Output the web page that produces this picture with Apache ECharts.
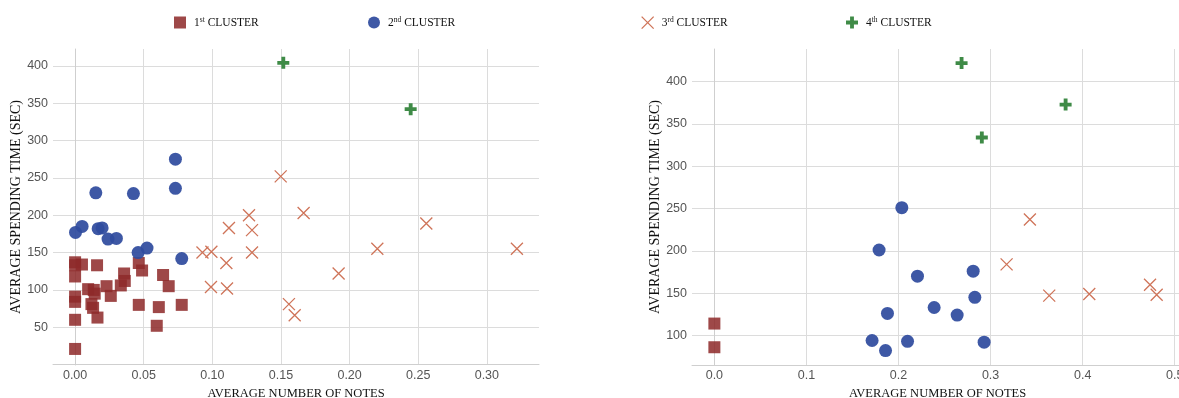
<!DOCTYPE html>
<html>
<head>
<meta charset="utf-8">
<script src="https://cdn.jsdelivr.net/npm/echarts@6/dist/echarts.min.js"></script>
<style>html,body{margin:0;padding:0;background:#fff}#c{width:1179px;height:398px}</style>
</head>
<body>
<div id="c"></div>
<script>
// ---- data (x = average number of notes, y = average spending time in sec) ----
const seriesNames = ['1st CLUSTER', '2nd CLUSTER', '3rd CLUSTER', '4th CLUSTER'];

const leftCluster1 = [[0,137],[0,133],[0,118],[0.005,134],[0.016,133],[0,91],[0,84],[0,60],[0,21],
  [0.0095,101],[0.0136,100],[0.0143,95],[0.0119,81],[0.0131,76],[0.0163,63],[0.0229,105],[0.026,92],
  [0.0357,122],[0.0362,112],[0.0333,106],[0.0464,136],[0.0488,126],[0.0464,80],[0.0641,120],
  [0.0682,105],[0.061,77],[0.0595,52],[0.0777,80]];
const leftCluster2 = [[0.0731,275],[0.0151,230],[0.0425,229],[0.0731,236],[0.0003,177],[0.0051,185],
  [0.0168,182],[0.0197,183],[0.024,168],[0.0301,169],[0.0459,150],[0.0524,156],[0.0777,142]];
const leftCluster3 = [[0.1498,252],[0.1665,203],[0.1267,200],[0.1121,183],[0.1289,180],[0.0928,150],
  [0.0993,151],[0.1289,150],[0.1102,136],[0.099,104],[0.1107,102],[0.1558,81],[0.16,66],
  [0.2202,155],[0.192,122],[0.3219,155],[0.2559,189]];
const leftCluster4 = [[0.1517,404],[0.2445,342]];

const rightCluster1 = [[0,114],[0,86]];
const rightCluster2 = [[0.2036,251],[0.1789,201],[0.2206,170],[0.188,126],[0.1713,94],[0.1859,82],
  [0.2098,93],[0.2811,176],[0.2829,145],[0.2387,133],[0.2637,124],[0.293,92]];
const rightCluster3 = [[0.3174,184],[0.3427,237],[0.3637,147],[0.4072,149],[0.4732,160],[0.4804,148]];
const rightCluster4 = [[0.2685,422],[0.3815,373],[0.2905,334]];

const leftXTicks = [0, 0.05, 0.10, 0.15, 0.20, 0.25, 0.30];
const leftYTicks = [50, 100, 150, 200, 250, 300, 350, 400];
const rightXTicks = [0, 0.1, 0.2, 0.3, 0.4, 0.5];
const rightYTicks = [100, 150, 200, 250, 300, 350, 400];

const xName = 'AVERAGE NUMBER OF NOTES';
const yName = 'AVERAGE SPENDING TIME (SEC)';

// ---- styles ----
const colors = ['#8e2a2a', '#2f4b9e', '#cf7459', '#3f8b47'];
const crossPath = 'path://M0,0 L10,10 M10,0 L0,10';
const plusPath = 'path://M3.4,0 L6.6,0 L6.6,3.4 L10,3.4 L10,6.6 L6.6,6.6 L6.6,10 L3.4,10 L3.4,6.6 L0,6.6 L0,3.4 L3.4,3.4 Z';
const symbols = ['rect', 'circle', crossPath, plusPath];
const sizes = [12, 13, 12, 12];

function itemStyle(i) {
  if (i === 2) return { color: 'rgba(0,0,0,0)', borderColor: colors[2], borderWidth: 1.3, opacity: 1 };
  if (i === 0) return { color: colors[0], opacity: 0.86 };
  if (i === 1) return { color: colors[1], opacity: 0.93 };
  return { color: colors[3], opacity: 1 };
}

const tickFont = { fontFamily: 'Liberation Sans', fontSize: 12.5, color: '#555' };
const xNameFont = { fontFamily: 'Liberation Serif', fontSize: 12.5, color: '#111' };
const yNameFont = { fontFamily: 'Liberation Serif', fontSize: 14, color: '#111' };

function xAxis(gi, min, max, ticks, digits) {
  return {
    type: 'value', gridIndex: gi, min: min, max: max,
    name: xName, nameLocation: 'middle', nameGap: 22, nameTextStyle: xNameFont,
    axisLine: { show: true, lineStyle: { color: '#cfcfcf', width: 1 } },
    axisTick: { show: false, customValues: ticks },
    axisLabel: Object.assign({ customValues: ticks, margin: 4, formatter: v => v.toFixed(digits) }, tickFont),
    splitLine: { show: true, lineStyle: { color: '#dcdcdc', width: 1 } }
  };
}
function yAxis(gi, min, max, ticks) {
  return {
    type: 'value', gridIndex: gi, min: min, max: max,
    name: yName, nameLocation: 'middle', nameGap: 28, nameTextStyle: yNameFont,
    axisLine: { show: true, lineStyle: { color: '#cfcfcf', width: 1 } },
    axisTick: { show: false, customValues: ticks },
    axisLabel: Object.assign({ customValues: ticks, margin: 5 }, tickFont),
    splitLine: { show: true, lineStyle: { color: '#dcdcdc', width: 1 } }
  };
}

const leftData = [leftCluster1, leftCluster2, leftCluster3, leftCluster4];
const rightData = [rightCluster1, rightCluster2, rightCluster3, rightCluster4];
const series = [];
[leftData, rightData].forEach((set, gi) => {
  set.forEach((d, i) => {
    series.push({
      type: 'scatter', name: seriesNames[i], xAxisIndex: gi, yAxisIndex: gi,
      data: d, symbol: symbols[i], symbolSize: sizes[i],
      itemStyle: itemStyle(i), emphasis: { disabled: true }, z: 2 + i
    });
  });
});

const legendLefts = [174, 368, 641, 846];
const supers = ['st', 'nd', 'rd', 'th'];
const legends = seriesNames.map((n, i) => ({
  data: [{ name: n, icon: symbols[i], itemStyle: itemStyle(i) }],
  left: legendLefts[i], top: 16, itemWidth: 12, itemHeight: 12, padding: 0,
  selectedMode: false,
  formatter: name => (i + 1) + '{s|' + supers[i] + '} CLUSTER',
  textStyle: {
    fontFamily: 'Liberation Serif', fontSize: 11.5, color: '#111', padding: [0, 0, 0, 3],
    rich: { s: { fontFamily: 'Liberation Serif', fontSize: 7.5, color: '#111', padding: [0, 0, 5, 0] } }
  }
}));

const chart = echarts.init(document.getElementById('c'), null, { renderer: 'canvas' });
chart.setOption({
  animation: false,
  backgroundColor: '#fff',
  legend: legends,
  grid: [
    { left: 53, top: 49, width: 486, height: 316, containLabel: false, outerBoundsMode: 'none' },
    { left: 692, top: 49, width: 491, height: 316, containLabel: false, outerBoundsMode: 'none' }
  ],
  xAxis: [xAxis(0, -0.0161, 0.338, leftXTicks, 2), xAxis(1, -0.0243, 0.509, rightXTicks, 1)],
  yAxis: [yAxis(0, -0.5, 422.5, leftYTicks), yAxis(1, 65, 438.7, rightYTicks)],
  series: series
});
</script>
</body>
</html>
